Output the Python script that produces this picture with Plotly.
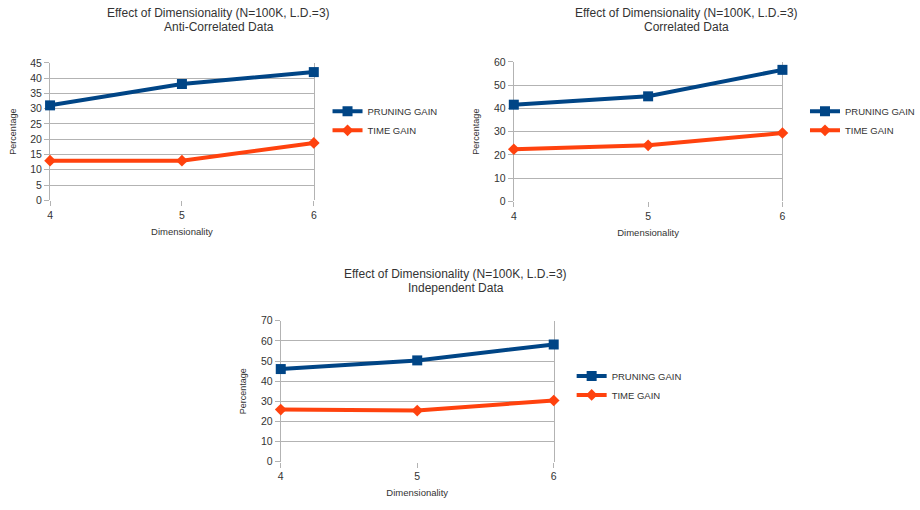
import plotly.graph_objects as go

dims = [4, 5, 6]
anti_pruning = [31.1, 38.1, 42.0]
anti_time = [13.0, 13.0, 18.8]
corr_pruning = [41.6, 45.2, 56.6]
corr_time = [22.4, 24.1, 29.4]
ind_pruning = [46.0, 50.3, 58.2]
ind_time = [25.9, 25.4, 30.4]

title_main = "Effect of Dimensionality (N=100K, L.D.=3)"
subtitles = ["Anti-Correlated Data", "Correlated Data", "Independent Data"]
y_ranges = [45, 60, 70]
y_dticks = [5, 10, 10]

BLUE = "#004586"
ORANGE = "#ff420e"
GRID = "#b3b3b3"
TXT = "#333333"
FONT = "Liberation Sans"

W, H = 920, 510
def px(x):
    return x / W
def py(y):
    return 1 - y / H

fig = go.Figure()

series = [(anti_pruning, anti_time), (corr_pruning, corr_time), (ind_pruning, ind_time)]
for i, (pr, tg) in enumerate(series):
    sfx = "" if i == 0 else str(i + 1)
    leg = "legend" if i == 0 else f"legend{i+1}"
    fig.add_trace(go.Scatter(x=dims, y=pr, name="PRUNING GAIN", mode="lines+markers",
                             line=dict(color=BLUE, width=4),
                             marker=dict(symbol="square", size=10, color=BLUE),
                             xaxis="x" + sfx, yaxis="y" + sfx, legend=leg, cliponaxis=False))
    fig.add_trace(go.Scatter(x=dims, y=tg, name="TIME GAIN", mode="lines+markers",
                             line=dict(color=ORANGE, width=4),
                             marker=dict(symbol="diamond", size=9, color=ORANGE),
                             xaxis="x" + sfx, yaxis="y" + sfx, legend=leg, cliponaxis=False))

# plot areas in pixels: (x4, x6, y0, ytop)
areas = [(48, 317, 199, 58.3), (521, 795, 200, 57.3), (283.3, 561.7, 466.7, 322.3)]
legend_pos = [(331, 93), (818, 93), (580, 364)]
title_pos = [(220, 7, 21), (697, 7, 21), (462, 274, 289)]

layout = dict(width=W, height=H, margin=dict(l=0, r=0, t=0, b=0),
              paper_bgcolor="white", plot_bgcolor="white",
              font=dict(family=FONT, color=TXT, size=10), annotations=[])

for i, (x0, x1, y0, y1) in enumerate(areas):
    sfx = "" if i == 0 else str(i + 1)
    layout["xaxis" + sfx] = dict(domain=[px(x0), px(x1)], range=[4, 6], anchor="y" + sfx,
                                 tickvals=dims, ticks="outside", ticklen=5, tickcolor=GRID,
                                 showgrid=False, zeroline=False, showline=False,
                                 tickfont=dict(size=10.5, color=TXT), layer="below traces",
                                 title=dict(text="Dimensionality", font=dict(size=9.5, color=TXT), standoff=8))
    layout["yaxis" + sfx] = dict(domain=[py(y0), py(y1)], range=[0, y_ranges[i]], anchor="x" + sfx,
                                 dtick=y_dticks[i], ticks="outside", ticklen=5, tickcolor=GRID,
                                 showgrid=True, gridcolor=GRID, gridwidth=1, zeroline=False,
                                 showline=True, mirror=True, linecolor=GRID, linewidth=1,
                                 tickfont=dict(size=10.5, color=TXT), layer="below traces",
                                 title=dict(text="Percentage", font=dict(size=9, color=TXT), standoff=12))
    lx, ly = legend_pos[i]
    lname = "legend" if i == 0 else f"legend{i+1}"
    layout[lname] = dict(x=px(lx), y=py(ly), xanchor="left", yanchor="top",
                         font=dict(size=9.5, color=TXT), bgcolor="rgba(0,0,0,0)",
                         itemwidth=30, tracegroupgap=0)
    tx, ty1, ty2 = title_pos[i]
    layout["annotations"].append(dict(text=title_main, x=px(tx), y=py(ty1),
                                      xref="paper", yref="paper", xanchor="center", yanchor="middle",
                                      showarrow=False, font=dict(size=12, color=TXT)))
    layout["annotations"].append(dict(text=subtitles[i], x=px(tx), y=py(ty2),
                                      xref="paper", yref="paper", xanchor="center", yanchor="middle",
                                      showarrow=False, font=dict(size=12, color=TXT)))

fig.update_layout(**layout)
fig.write_html("out.html")
